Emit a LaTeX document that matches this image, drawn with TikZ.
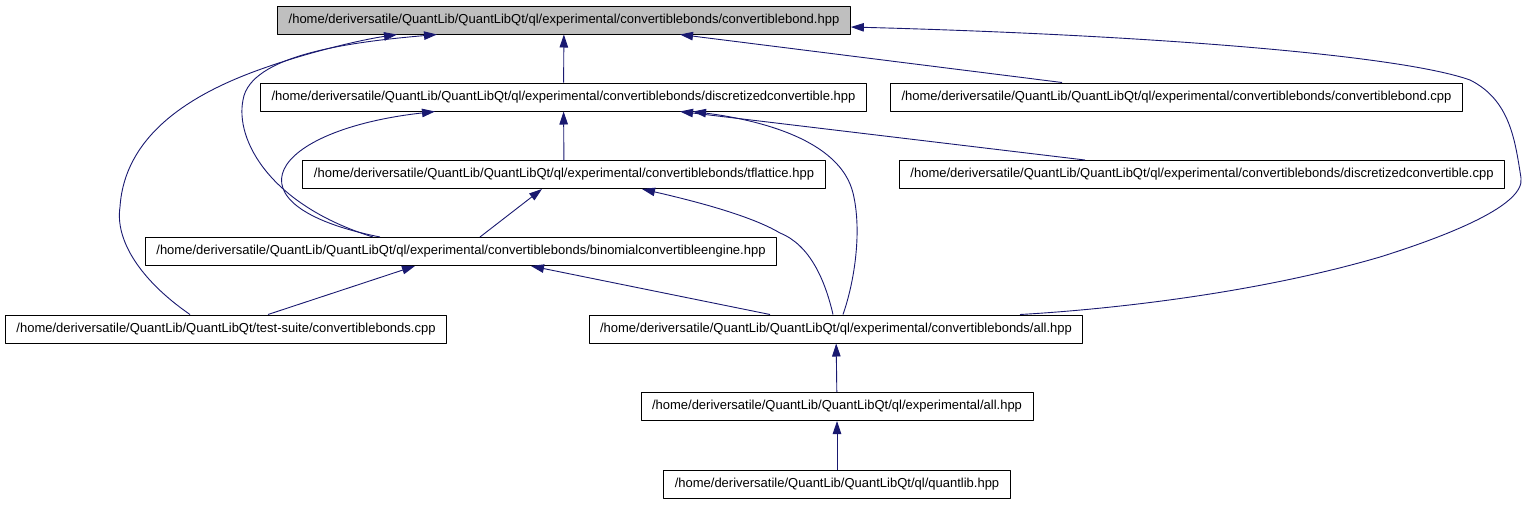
\documentclass[tikz,border=0pt]{standalone}
\usepackage{fontspec}
\setmainfont{Liberation Sans}
\usetikzlibrary{arrows.meta}
\definecolor{edgeblue}{HTML}{191970}
\definecolor{rootgray}{HTML}{BFBFBF}
\begin{document}
\begin{tikzpicture}[x=1pt,y=-1pt,>={Triangle[length=13pt,width=8.5pt]},line join=round,
		file/.style={draw=black,line width=1pt,minimum height=28pt,inner xsep=11pt,inner ysep=0pt,font=\fontsize{13}{15}\selectfont},
		root/.style={file,fill=rootgray},
		edge/.style={->,draw=edgeblue,line width=0.9pt}]
				\def\qlroot{/home/deriversatile/QuantLib/QuantLibQt}
				\useasboundingbox (0,0) rectangle (1528,504);
				% files
				\node[root] (bondh) at (564,20) {\qlroot/ql/experimental/convertiblebonds/convertiblebond.hpp};
				\node[file] (discrh) at (563.5,97) {\qlroot/ql/experimental/convertiblebonds/discretizedconvertible.hpp};
				\node[file] (bondcpp) at (1176.5,97) {\qlroot/ql/experimental/convertiblebonds/convertiblebond.cpp};
				\node[file] (tflat) at (564,174.5) {\qlroot/ql/experimental/convertiblebonds/tflattice.hpp};
				\node[file] (discrcpp) at (1202,174.5) {\qlroot/ql/experimental/convertiblebonds/discretizedconvertible.cpp};
				\node[file] (engine) at (461,251.5) {\qlroot/ql/experimental/convertiblebonds/binomialconvertibleengine.hpp};
				\node[file] (test) at (226,329) {\qlroot/test-suite/convertiblebonds.cpp};
				\node[file] (bondsall) at (836,329) {\qlroot/ql/experimental/convertiblebonds/all.hpp};
				\node[file] (expall) at (837,406.5) {\qlroot/ql/experimental/all.hpp};
				\node[file] (qlib) at (837,484) {\qlroot/ql/quantlib.hpp};
				% includes
				\draw[edge] (discrh) -- (bondh);
				\draw[edge] ([xshift=-114.5pt]bondcpp.north) -- ([xshift=116pt]bondh.south);
				\draw[edge] ([xshift=-88pt]engine.north) .. controls (270,205) and (235,140) .. (243,100) .. controls (250,55) and (350,42) .. ([xshift=-127pt]bondh.south);
				\draw[edge] ([xshift=-36pt]test.north) .. controls (140,280) and (115,240) .. (120,207) .. controls (125,130) and (200,90) .. (267,67) .. controls (310,52) and (360,40) .. ([xshift=-167pt]bondh.south);
				\draw[edge] ([xshift=184pt]bondsall.north) .. controls (1100,310) and (1250,295) .. (1380,257) .. controls (1450,235) and (1525,205) .. (1521,178) .. controls (1515,140) and (1510,100) .. (1470,80) .. controls (1400,55) and (1150,35) .. ([yshift=-7pt]bondh.east);
				\draw[edge] (tflat) -- (discrh);
				\draw[edge] ([xshift=-117pt]discrcpp.north) -- ([xshift=116.5pt]discrh.south);
				\draw[edge] ([xshift=-81pt]engine.north) .. controls (220,205) and (270,130) .. ([xshift=-128.5pt]discrh.south);
				\draw[edge] ([xshift=7pt]bondsall.north) .. controls (855,280) and (862,230) .. (853,193) .. controls (840,140) and (760,120) .. ([xshift=129.5pt]discrh.south);
				\draw[edge] ([xshift=19pt]engine.north) -- ([xshift=-22pt]tflat.south);
				\draw[edge] ([xshift=-3pt]bondsall.north) .. controls (825,280) and (810,245) .. (780,233) .. controls (750,215) and (690,200) .. ([xshift=78pt]tflat.south);
				\draw[edge] ([xshift=42pt]test.north) -- ([xshift=-46pt]engine.south);
				\draw[edge] ([xshift=-66pt]bondsall.north) -- ([xshift=70pt]engine.south);
				\draw[edge] (expall) -- (bondsall);
				\draw[edge] (qlib) -- (expall);
		\end{tikzpicture}
\end{document}
